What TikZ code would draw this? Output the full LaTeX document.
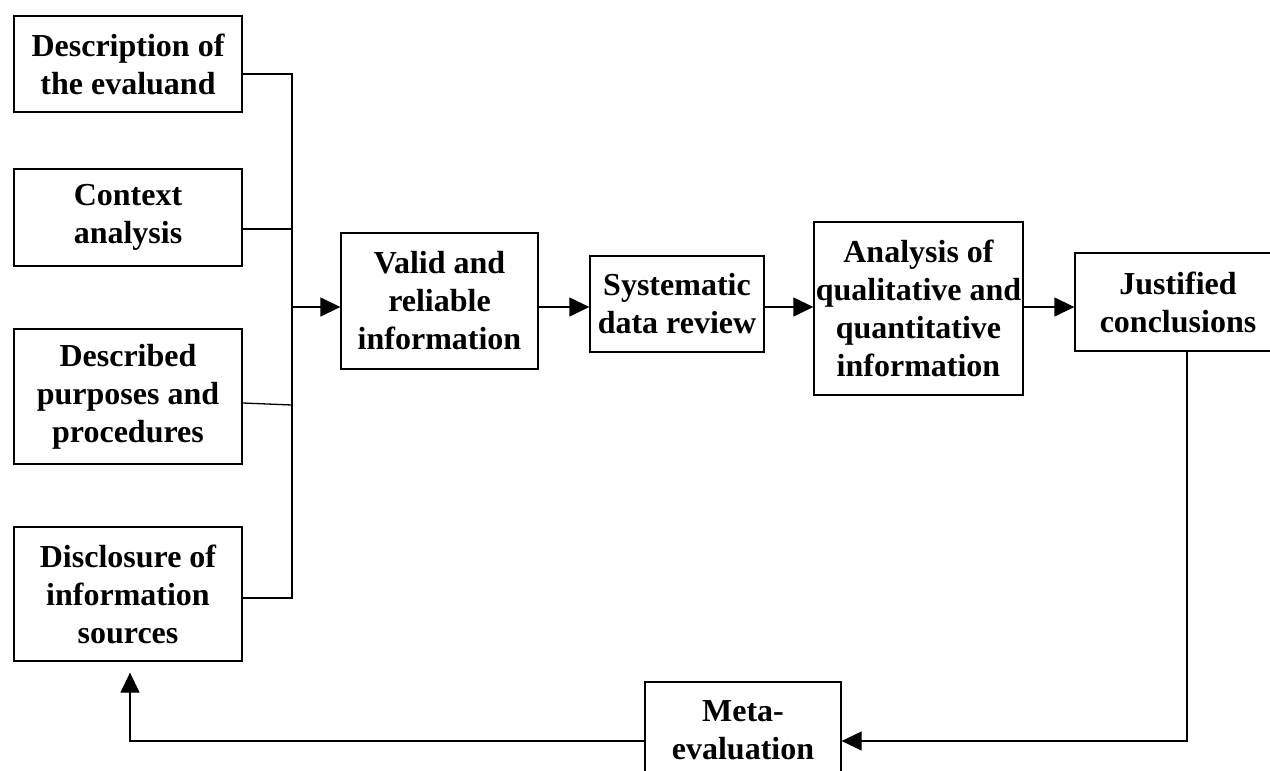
\documentclass[tikz,border=0pt]{standalone}
\usepackage{fontspec}
\setmainfont{Liberation Serif}
\usetikzlibrary{arrows.meta,positioning,calc}

\begin{document}
\begin{tikzpicture}[x=1pt,y=-1pt,line width=1.3pt,
  box/.style={draw,align=center,inner sep=0pt,
    font=\bfseries\fontsize{32}{38}\selectfont},
  arr/.style={-{Triangle[length=20pt,width=19pt]}}]
 \useasboundingbox (0,0) rectangle (1270,771);
 % left column
 \node[box,minimum width=228pt,minimum height=96pt] (desc) at (128,64) {Description of\\the evaluand};
 \node[box,minimum width=228pt,minimum height=97pt] (ctx) at (128,217.5) {Context\\analysis};
 \node[box,minimum width=228pt,minimum height=135pt] (purp) at (128,396.5) {Described\\purposes and\\procedures};
 \node[box,minimum width=228pt,minimum height=134pt] (disc) at (128,594) {Disclosure of\\information\\sources};
 % main row
 \node[box,minimum width=197pt,minimum height=136pt] (valid) at (439.5,301) {Valid and\\reliable\\information};
 \node[box,minimum width=174pt,minimum height=96pt] (sys) at (677,304) {Systematic\\data review};
 \node[box,minimum width=209pt,minimum height=173pt] (anal) at (918.5,308.5) {Analysis of\\qualitative and\\quantitative\\information};
 \node[box,minimum width=206pt,minimum height=98pt] (just) at (1178,302) {Justified\\conclusions};
 \node[box,minimum width=196pt,minimum height=96pt] (meta) at (743,730) {Meta-\\evaluation};
 % bus
 \coordinate (b1) at (292,74);
 \coordinate (b2) at (292,229);
 \coordinate (b3) at (292,405);
 \coordinate (b4) at (292,598);
 \coordinate (row) at (292,307);
 \draw (desc.east |- b1) -- (b1) -- (b4) -- (disc.east |- b4);
 \draw (ctx.east |- b2) -- (b2);
 \draw (purp.east |- 0,403) -- (b3);
 \draw[arr] (row) -- (row -| valid.west);
 \draw[arr] (valid.east |- row) -- (row -| sys.west);
 \draw[arr] (sys.east |- row) -- (row -| anal.west);
 \draw[arr] (anal.east |- row) -- (row -| just.west);
 % feedback loop
 \coordinate (lo) at (1187,741);
 \coordinate (ll) at (130,741);
 \draw[arr] (just.south -| lo) -- (lo) -- (lo -| meta.east);
 \draw[arr] (meta.west |- ll) -- (ll) -- ([xshift=2pt,yshift=-11pt]disc.south);
\end{tikzpicture}
\end{document}
